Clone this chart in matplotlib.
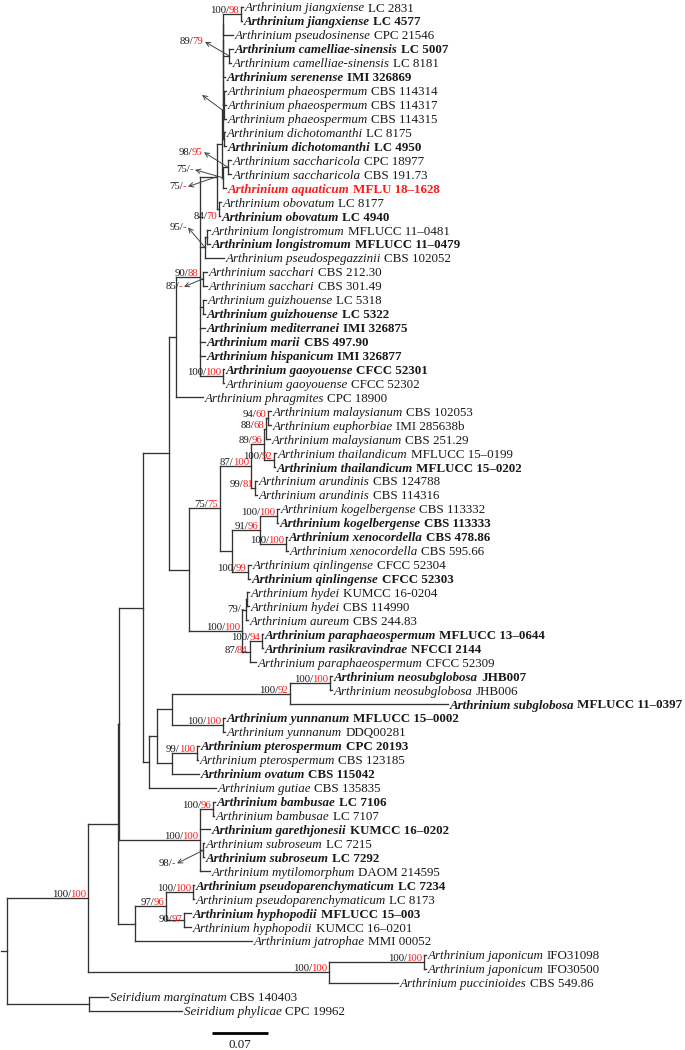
import matplotlib
matplotlib.use("Agg")
import matplotlib.pyplot as plt
from matplotlib.collections import LineCollection

# ---------------- data ----------------
species = [
    "Arthrinium jiangxiense", "Arthrinium jiangxiense", "Arthrinium pseudosinense",
    "Arthrinium camelliae-sinensis", "Arthrinium camelliae-sinensis", "Arthrinium serenense",
    "Arthrinium phaeospermum", "Arthrinium phaeospermum", "Arthrinium phaeospermum",
    "Arthrinium dichotomanthi", "Arthrinium dichotomanthi", "Arthrinium saccharicola",
    "Arthrinium saccharicola", "Arthrinium aquaticum", "Arthrinium obovatum",
    "Arthrinium obovatum", "Arthrinium longistromum", "Arthrinium longistromum",
    "Arthrinium pseudospegazzinii", "Arthrinium sacchari", "Arthrinium sacchari",
    "Arthrinium guizhouense", "Arthrinium guizhouense", "Arthrinium mediterranei",
    "Arthrinium marii", "Arthrinium hispanicum", "Arthrinium gaoyouense",
    "Arthrinium gaoyouense", "Arthrinium phragmites", "Arthrinium malaysianum",
    "Arthrinium euphorbiae", "Arthrinium malaysianum", "Arthrinium thailandicum",
    "Arthrinium thailandicum", "Arthrinium arundinis", "Arthrinium arundinis",
    "Arthrinium kogelbergense", "Arthrinium kogelbergense", "Arthrinium xenocordella",
    "Arthrinium xenocordella", "Arthrinium qinlingense", "Arthrinium qinlingense",
    "Arthrinium hydei", "Arthrinium hydei", "Arthrinium aureum",
    "Arthrinium paraphaeospermum", "Arthrinium rasikravindrae", "Arthrinium paraphaeospermum",
    "Arthrinium neosubglobosa", "Arthrinium neosubglobosa", "Arthrinium subglobosa",
    "Arthrinium yunnanum", "Arthrinium yunnanum", "Arthrinium pterospermum",
    "Arthrinium pterospermum", "Arthrinium ovatum", "Arthrinium gutiae",
    "Arthrinium bambusae", "Arthrinium bambusae", "Arthrinium garethjonesii",
    "Arthrinium subroseum", "Arthrinium subroseum", "Arthrinium mytilomorphum",
    "Arthrinium pseudoparenchymaticum", "Arthrinium pseudoparenchymaticum", "Arthrinium hyphopodii",
    "Arthrinium hyphopodii", "Arthrinium jatrophae", "Arthrinium japonicum",
    "Arthrinium japonicum", "Arthrinium puccinioides", "Seiridium marginatum",
    "Seiridium phylicae",
]
strains = [
    "LC 2831", "LC 4577", "CPC 21546", "LC 5007", "LC 8181", "IMI 326869",
    "CBS 114314", "CBS 114317", "CBS 114315", "LC 8175", "LC 4950", "CPC 18977",
    "CBS 191.73", "MFLU 18\u20131628", "LC 8177", "LC 4940", "MFLUCC 11\u20130481",
    "MFLUCC 11\u20130479", "CBS 102052", "CBS 212.30", "CBS 301.49", "LC 5318",
    "LC 5322", "IMI 326875", "CBS 497.90", "IMI 326877", "CFCC 52301", "CFCC 52302",
    "CPC 18900", "CBS 102053", "IMI 285638b", "CBS 251.29", "MFLUCC 15\u20130199",
    "MFLUCC 15\u20130202", "CBS 124788", "CBS 114316", "CBS 113332", "CBS 113333",
    "CBS 478.86", "CBS 595.66", "CFCC 52304", "CFCC 52303", "KUMCC 16-0204",
    "CBS 114990", "CBS 244.83", "MFLUCC 13\u20130644", "NFCCI 2144", "CFCC 52309",
    "JHB007", "JHB006", "MFLUCC 11\u20130397", "MFLUCC 15\u20130002", "DDQ00281",
    "CPC 20193", "CBS 123185", "CBS 115042", "CBS 135835", "LC 7106", "LC 7107",
    "KUMCC 16\u20130202", "LC 7215", "LC 7292", "DAOM 214595", "LC 7234", "LC 8173",
    "MFLUCC 15\u2013003", "KUMCC 16\u20130201", "MMI 00052", "IFO31098", "IFO30500",
    "CBS 549.86", "CBS 140403", "CPC 19962",
]
bold_leaves = [2, 4, 6, 11, 14, 16, 18, 23, 24, 25, 26, 27, 34, 38, 39, 42, 46, 47,
               49, 51, 52, 54, 56, 58, 60, 62, 64, 66]
red_leaves = [14]

# tree (branch lengths in substitutions/site)
nwk_T = ("((((((((L1:0.0025,L2:0.00125)jiangx:0.0225,L3:0.0125)A5:0,"
         "(L4:0.005,L5:0.0025)camel:0.0075)A4:0,L6:0.0025)A3:0,"
         "(L7:0.0025,L8:0.0025,L9:0.0025)phaeo:0.00125)A2:0,"
         "(L10:0.00125,L11:0.0025)dich:0.00125)A:0.00125,"
         "((L12:0.00375,L13:0.00375)sacch:0.00625,L14:0.00375)S:0.00125)T1:0.00625,"
         "(L15:0.0025,L16:0.00125)obov:0.0025)T:0.02125")
nwk_C90 = ("(" + nwk_T + ",((L17:0.00375,L18:0.00375)longi:0.0025,L19:0.02375)longicl:0.00625,"
           "(L20:0.005,L21:0.005)sacchari:0.00375,(L22:0.00375,L23:0.0025)guizh:0.00375,"
           "L24:0.00625,L25:0.00625,L26:0.00625,(L27:0.00125,L28:0.00125)gaoy:0.02875)C90:0.03")
nwk_L = "(" + nwk_C90 + ",L29:0.03375)L:0.00875"
nwk_n87 = ("((((L30:0.00375,L31:0.00375)n94:0.0025,L32:0.005)n88:0.0025,"
           "(L33:0.0025,L34:0.00125)thai:0.0125)n89:0.01625,(L35:0.0025,L36:0.0025)arund:0.005)n87:0.03875")
nwk_n232 = ("(((L37:0.0025,L38:0.00125)kogel:0.02125,(L39:0.00125,L40:0.0025)xeno:0.0325)n91:0.035,"
            "(L41:0.00375,L42:0.0025)qinl:0.02)n232:0.015")
nwk_hyd = ("(((L43:0.0025,L44:0.0025)hyd:0.00125,L45:0.0025)n79:0.005,"
           "((L46:0.00125,L47:0.00125)para:0.015,L48:0.0075)n8784:0.01)hydcl:0.06625")
nwk_K = "(" + nwk_L + ",((" + nwk_n87 + "," + nwk_n232 + ")n75:0.03875," + nwk_hyd + ")n7575:0.025)K:0.0325"
nwk_G = ("(((((L49:0.0025,L50:0.0025)neo:0.05,L51:0.1975)neocl:0.1475,"
         "(L52:0.0025,L53:0.0025)yunn:0.06375)NY:0.01875,"
         "((L54:0.0025,L55:0.00125)ptero:0.03125,L56:0.03375)PO:0.01875)H:0.01,L57:0.08375)G:0.0075")
nwk_B = ("((L58:0.0025,L59:0.00125)bamb:0.01625,L60:0.0125,"
         "(L61:0.00125,L62:0.00125)subr:0.00375,L63:0.0125)B:0.10125")
nwk_P = ("(((L64:0.00125,L65:0.00125)pspar:0.03375,(L66:0.00875,L67:0.00875)hyph:0.0225)Q:0.03875,"
         "L68:0.14625)P:0.02125")
nwk_JP = "((L69:0.0025,L70:0.0025)jap:0.11875,L71:0.08625)JP:0.30125"
nwk_Seir = "(L72:0.02375,L73:0.11625)Seir:0.1025"
newick = ("(((((" + nwk_K + "," + nwk_G + ")M:0.03," + nwk_B + ")Y:0.00125," + nwk_P + ")X:0.0375,"
          + nwk_JP + ")Arth:0.10125," + nwk_Seir + ")root;")

support_nodes = ["Arth", "jiangx", "obov", "C90", "gaoy", "n75", "n87", "n89", "n88", "n94",
                 "thai", "arund", "n91", "kogel", "xeno", "qinl", "hydcl", "n79", "para",
                 "n8784", "neocl", "neo", "yunn", "ptero", "bamb", "B", "pspar", "Q",
                 "hyph", "JP", "jap"]
support_ml = ["100", "100", "84", "90", "100", "75", "87", "89", "88", "94",
              "100", "99", "91", "100", "100", "100", "100", "79", "100",
              "87", "100", "100", "100", "99", "100", "100", "100", "97",
              "90", "100", "100"]
support_bi = ["100", "98", "70", "88", "100", "75", "100", "96", "68", "60",
              "92", "81", "96", "100", "100", "99", "100", "-", "94",
              "84", "92", "100", "100", "100", "96", "100", "100", "96",
              "97", "100", "100"]

arrow_nodes = ["camel", "A", "sacch", "S", "T", "longicl", "sacchari", "subr"]
arrow_ml = ["89", "", "98", "75", "75", "95", "85", "98"]
arrow_bi = ["79", "", "95", "-", "-", "-", "-", "-"]

scale_value = 0.07

# ---------------- layout constants ----------------
W, H = 685, 1050
PX = 0.00125          # tree units per pixel
Y0, DY = 7.0, 13.94   # pixel of first leaf, leaf spacing
SERIF = "Liberation Serif"
RED = "#ff1a1a"
DARK = "#1a1a1a"
LINE = "#333333"
GAP_PX = 3.0
SLASH_KERN_PX = 1.0

# label widths measured on the reference (pixels) used to size the fonts
calib_leaves = [64, 65, 68, 69, 71, 1]
calib_width_px = [252, 242, 179, 174, 194, 159]
calib_support_px = 35.0   # width of "100/100"

# arrow label offsets (pixels relative to node: text right end / centre)
arrow_offsets = [(-26, -14), (-23, -15.5), (-26, -15), (-30, -8), (-31, 10),
                 (-19, -20), (-21, 8), (-28, 13)]
label_dy_override = {"obov": 10.0, "n79": 2.0, "n8784": 1.0, "hyph": 1.5}


# ---------------- parse newick ----------------
def parse_newick(s):
    pos = 0

    def node():
        nonlocal pos
        children = []
        if s[pos] == "(":
            pos += 1
            while True:
                children.append(node())
                if s[pos] == ",":
                    pos += 1
                else:
                    pos += 1
                    break
        start = pos
        while pos < len(s) and s[pos] not in ":,);":
            pos += 1
        name = s[start:pos]
        bl = 0.0
        if pos < len(s) and s[pos] == ":":
            pos += 1
            start = pos
            while s[pos] not in ",);":
                pos += 1
            bl = float(s[start:pos])
        return {"name": name, "bl": bl, "children": children}

    return node()


tree = parse_newick(newick)
nodes = {}
leaves = []


def layout(nd, x0):
    nd["x"] = x0 + nd["bl"]
    nodes[nd["name"]] = nd
    if not nd["children"]:
        nd["y"] = float(len(leaves))
        leaves.append(nd)
    else:
        for c in nd["children"]:
            layout(c, nd["x"])
        nd["y"] = (nd["children"][0]["y"] + nd["children"][-1]["y"]) / 2.0


layout(tree, 0.0)

# ---------------- figure ----------------
fig = plt.figure(figsize=(W / 100, H / 100), dpi=100)
ax = fig.add_axes([0, 0, 1, 1])
ax.set_xlim(-Y0 * PX, (W - Y0) * PX)
ax.set_ylim((H - Y0) / DY, -Y0 / DY)
ax.axis("off")
renderer = fig.canvas.get_renderer()


def text_px(s, fs, style="normal", weight="normal"):
    t = ax.text(0, 0, s, family=SERIF, style=style, weight=weight, fontsize=fs)
    w = t.get_window_extent(renderer).width
    t.remove()
    return w


# calibrate font sizes to the reference widths
ratios = []
for i, wref in zip(calib_leaves, calib_width_px):
    b = "bold" if i in bold_leaves else "normal"
    w = text_px(species[i - 1], 10, "italic", b) + GAP_PX + text_px(strains[i - 1], 10, "normal", b)
    ratios.append(wref / w)
FS_LEAF = 10 * sum(ratios) / len(ratios)
FS_SUP = 10 * calib_support_px / (text_px("100/", 10) + text_px("100", 10))

segs = []
for nd in nodes.values():
    if nd["children"]:
        segs.append([(nd["x"], nd["children"][0]["y"]), (nd["x"], nd["children"][-1]["y"])])
        for c in nd["children"]:
            segs.append([(nd["x"], c["y"]), (c["x"], c["y"])])
# root stub
segs.append([(tree["x"] - 6 * PX, tree["y"]), (tree["x"], tree["y"])])
ax.add_collection(LineCollection(segs, colors=LINE, linewidths=0.95, capstyle="projecting"))


def width_data(t):
    return t.get_window_extent(renderer).width * PX


# leaf labels
for lf in leaves:
    i = int(lf["name"][1:])
    b = i in bold_leaves
    col = RED if i in red_leaves else DARK
    x = lf["x"] + 2 * PX
    t1 = ax.text(x, lf["y"], species[i - 1], family=SERIF, style="italic",
                 weight="bold" if b else "normal", fontsize=FS_LEAF, color=col,
                 ha="left", va="center_baseline")
    w = width_data(t1)
    ax.text(x + w + GAP_PX * PX, lf["y"], strains[i - 1], family=SERIF,
            weight="bold" if b else "normal", fontsize=FS_LEAF, color=col,
            ha="left", va="center_baseline")


def two_colour(xr, y, black, red, va="baseline"):
    t = ax.text(xr, y, red, family=SERIF, fontsize=FS_SUP, color=RED,
                ha="right", va=va)
    w = width_data(t)
    ax.text(xr - w + SLASH_KERN_PX * PX, y, black + "/", family=SERIF, fontsize=FS_SUP,
            color=DARK, ha="right", va=va)


for name, a, b in zip(support_nodes, support_ml, support_bi):
    nd = nodes[name]
    dy = label_dy_override.get(name, -1.0)
    two_colour(nd["x"] - 2 * PX, nd["y"] + dy / DY, a, b)

# arrow-linked labels (arrow head points at the label)
for name, a, b, (dx, dy) in zip(arrow_nodes, arrow_ml, arrow_bi, arrow_offsets):
    nd = nodes[name]
    tx = nd["x"] + dx * PX
    ty = nd["y"] + dy / DY
    ax.annotate("", xy=(tx + 2 * PX, ty), xytext=(nd["x"], nd["y"]),
                arrowprops=dict(arrowstyle="->", color="#444444", lw=0.7,
                                shrinkA=0, shrinkB=0, mutation_scale=8))
    if a:
        two_colour(tx, ty, a, b, va="center")

# scale bar
sx0 = (212 - Y0) * PX
sy = (1033 - Y0) / DY
ax.plot([sx0, sx0 + scale_value], [sy, sy], color="black", lw=2.0, solid_capstyle="butt")
ax.text(sx0 + scale_value / 2, (1045 - Y0) / DY, f"{scale_value:.2f}", family=SERIF,
        fontsize=FS_LEAF, color=DARK, ha="center", va="center")

fig.savefig("out.png", dpi=100)
